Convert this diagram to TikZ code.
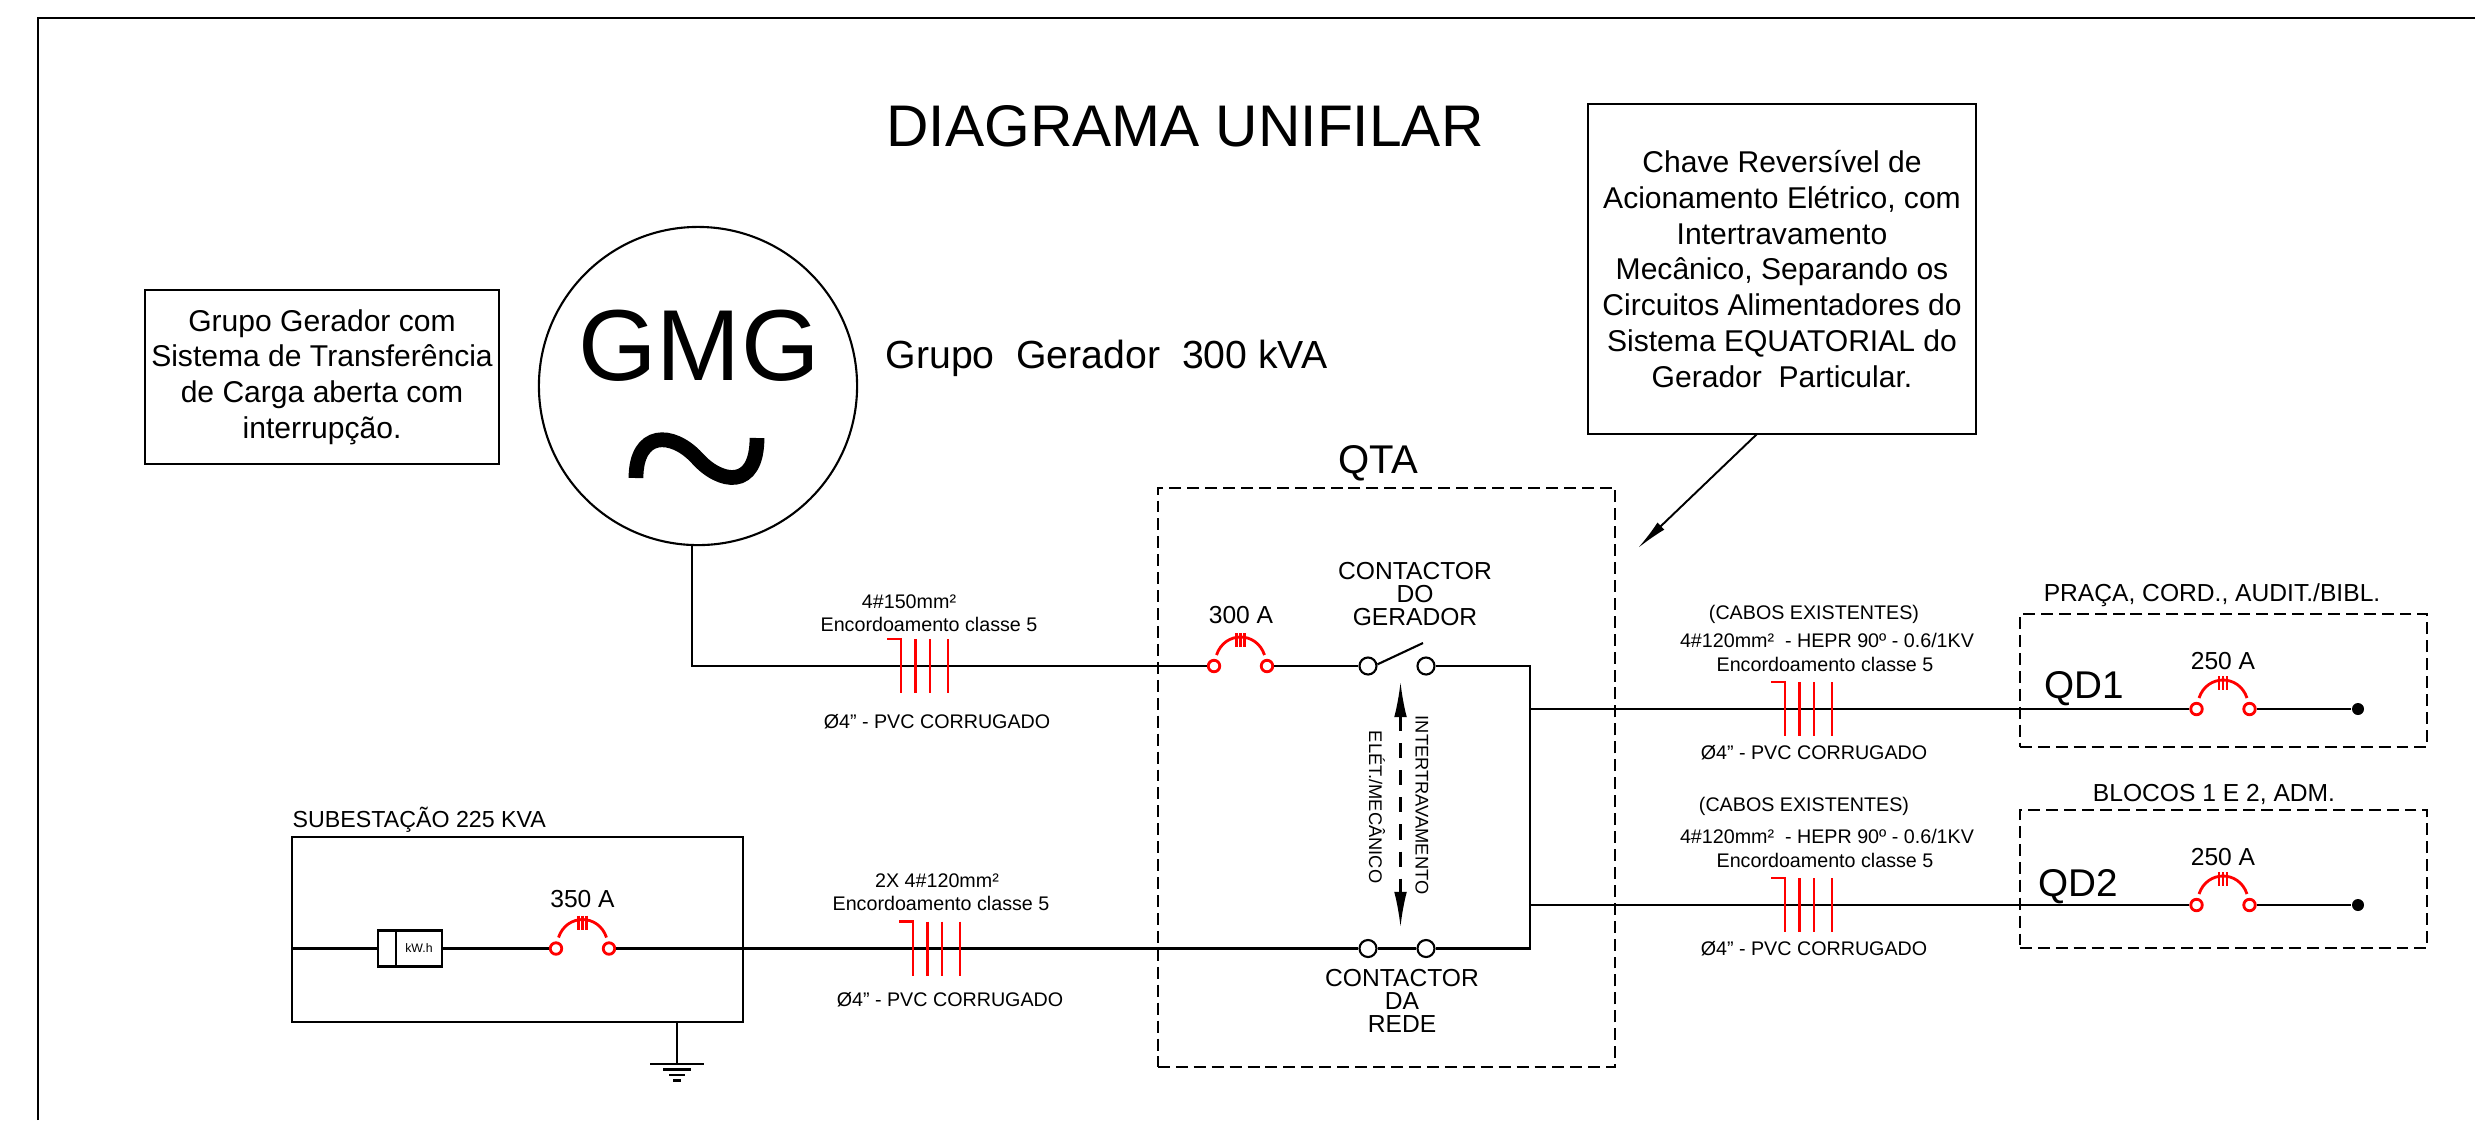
\documentclass[tikz,border=0pt]{standalone}
\usepackage{fontspec}
\setmainfont{Liberation Sans}
\usetikzlibrary{arrows.meta}
\tikzset{
    wire/.style={line width=0.6pt},
    redw/.style={line width=0.65pt,red},
    qbox/.style={rectangle,draw,line width=0.65pt,dash pattern=on 3.4pt off 1.7pt,inner sep=0},
    tbox/.style={rectangle,draw,line width=0.6pt,align=center,inner sep=0,font=\fontsize{8.55}{10.15}\selectfont},
    small/.style={font=\fontsize{5.6}{6.6}\selectfont,inner sep=0,align=center},
    mid/.style={font=\fontsize{7}{6.6}\selectfont,inner sep=0,align=center},
    qdl/.style={font=\fontsize{11}{12}\selectfont,inner sep=0},
    ctc/.style={circle,draw,line width=0.6pt,minimum size=0.17cm,inner sep=0},
    brk/.style={circle,draw=red,line width=0.8pt,minimum size=0.115cm,inner sep=0},
    breaker/.pic={
        \node[brk] (l) at (-26.5,0) {};
        \node[brk] (r) at (26.5,0) {};
        \draw[redw,line width=0.8pt] (-24,-11) .. controls (-16,-35) and (16,-35) .. (24,-11);
        \draw[redw] (-4,-33) -- (-4,-19) (0,-33) -- (0,-19) (4,-33) -- (4,-19);
    },
    cable/.pic={
        \draw[redw] (-14,-27) -- (0,-27) -- (0,27);
        \draw[redw] (14.5,-27) -- (14.5,27) (29,-27) -- (29,27) (47,-27) -- (47,27);
    },
    earth/.pic={
        \coordinate (o) at (0,0);
        \draw[wire] (-27,0) -- (27,0) (-14,5.5) -- (14,5.5) (-8,11) -- (8,11) (-4,16.5) -- (4,16.5);
    }
}
\begin{document}
\begin{tikzpicture}[x=0.01cm,y=-0.01cm]
    \useasboundingbox (0,0) rectangle (2475,1120);
    \coordinate (fa) at (38,1120);\coordinate (fb) at (38,18);\coordinate (fc) at (2475,18);
    \draw[line width=0.75pt] (fa) -- (fb) -- (fc);
    \node[inner sep=0,font=\fontsize{16.7}{18}\selectfont] (title) at (1185,126) {DIAGRAMA UNIFILAR};

    % boxes with text
    \node[tbox,minimum width=3.88cm,minimum height=3.3cm] (note) at (1782,269) {Chave Reversível de\\Acionamento Elétrico, com\\Intertravamento\\Mecânico, Separando os\\Circuitos Alimentadores do\\Sistema EQUATORIAL do\\Gerador\ \ Particular.};
    \node[tbox,minimum width=3.54cm,minimum height=1.74cm] (grupo) at (322,377) {Grupo Gerador com\\Sistema de Transferência\\de Carga aberta com\\interrupção.};
    \coordinate (notefoot) at (1757,434);\coordinate (notetip) at (1638,548);
    \draw[line width=0.55pt,-{Latex[length=9pt,width=2.8pt]}] (notefoot) -- (notetip);

    % generator
    \node[circle,draw,line width=0.6pt,minimum size=3.18cm,inner sep=0] (gmg) at (698,386) {};
    \node[inner sep=0,font=\fontsize{28.7}{30}\selectfont] (gmgt) at (699,346) {GMG};
    \draw[line width=4.2pt] (636,478) .. controls (636,431) and (672,431) .. (697,458) .. controls (720,484) and (757,490) .. (757,438);
    \node[anchor=west,inner sep=0,font=\fontsize{11.15}{12}\selectfont] (gmgp) at (885,358) {Grupo\ \ Gerador\ \ 300 kVA};

    % substation
    \node[rectangle,draw,line width=0.6pt,minimum width=4.51cm,minimum height=1.85cm,inner sep=0] (sub) at (517.5,929.5) {};
    \node[anchor=west,inner sep=0,font=\fontsize{6.6}{7}\selectfont] (subt) at (292,820) {SUBESTAÇÃO 225 KVA};
    \coordinate (subin) at (292,948.5);
    \node[rectangle,draw,line width=0.6pt,minimum width=0.18cm,minimum height=0.36cm,inner sep=0] (kwhl) at (387,948.5) {};
    \node[rectangle,draw,line width=0.6pt,minimum width=0.46cm,minimum height=0.36cm,inner sep=0,font=\fontsize{3.5}{4}\selectfont] (kwhr) at (419,948.5) {kW.h};
    \pic (bs) at (582.5,948.5) {breaker};
    \node[mid] (bst) at (582.5,899) {350 A};
    \pic (gnd) at (677,1064) {earth};
    \draw[wire] (sub.south -| gndo) -- (gndo);

    % QTA
    \node[qbox,minimum width=4.57cm,minimum height=5.79cm] (qta) at (1386.5,777.5) {};
    \node[inner sep=0,font=\fontsize{11.4}{12}\selectfont] (qtat) at (1378,463) {QTA};
    \pic (bg) at (1240.5,666) {breaker};
    \node[mid] (bgt) at (1241,615) {300 A};
    \node[ctc] (cg1) at (1368,666) {};
    \node[ctc] (cg2) at (1426,666) {};
    \node[ctc] (cr1) at (1368,948.5) {};
    \node[ctc] (cr2) at (1426,948.5) {};
    \node[mid] (cgt) at (1415,594) {CONTACTOR\\DO\\GERADOR};
    \node[mid] (crt) at (1402,1001) {CONTACTOR\\DA\\REDE};
    \coordinate (blade) at (1423,643);
    \draw[wire] (cg1.10) -- (blade);
    \coordinate (lockt) at (1400.5,682);\coordinate (lockb) at (1400.5,927);
    \draw[line width=0.6pt,dash pattern=on 4.3pt off 3.4pt,{Latex[length=10pt,width=3.6pt]}-{Latex[length=10pt,width=3.6pt]}] (lockt) -- (lockb);
    \node[rotate=-90,inner sep=0,font=\fontsize{5.2}{6}\selectfont] (lock1) at (1422,805) {INTERTRAVAMENTO};
    \node[rotate=-90,inner sep=0,font=\fontsize{5.2}{6}\selectfont] (lock2) at (1377,807) {ELÉT./MECÂNICO};

    % QD1 and QD2
    \node[qbox,minimum width=4.07cm,minimum height=1.33cm] (qd1) at (2223.5,680.5) {};
    \node[qbox,minimum width=4.07cm,minimum height=1.38cm] (qd2) at (2223.5,879) {};
    \node[mid] (qd1t) at (2212,595) {PRAÇA, CORD., AUDIT./BIBL.};
    \node[mid] (qd2t) at (2214,794) {BLOCOS 1 E 2, ADM.};
    \node[qdl] (qd1n) at (2084,689) {QD1};
    \node[qdl] (qd2n) at (2078,887) {QD2};
    \pic (b1) at (2223,709) {breaker};
    \pic (b2) at (2223,905) {breaker};
    \node[mid] (b1t) at (2223,661) {250 A};
    \node[mid] (b2t) at (2223,857) {250 A};
    \node[circle,fill=black,minimum size=0.12cm,inner sep=0] (d1) at (2358,709) {};
    \node[circle,fill=black,minimum size=0.12cm,inner sep=0] (d2) at (2358,905) {};

    % wires
    \coordinate (bust) at (1530,666);\coordinate (busb) at (1530,948.5);
    \coordinate (bus1) at (1530,709);\coordinate (bus2) at (1530,905);
    \draw[wire] (gmg.-92) |- (bgl) (bgr) -- (cg1) (cg2) -- (bust) -- (busb) -- (cr2) -- (cr1);
    \draw[wire] (bsr) -- (cr1);
    \draw[wire] (subin) -- (kwhl) (kwhr) -- (bsl);
    \draw[wire] (bus1) -- (b1l) (b1r) -- (d1) (bus2) -- (b2l) (b2r) -- (d2);

    % cables
    \pic (c1) at (901,666) {cable};
    \node[small] (c1a) at (909,602) {4\#150mm²};
    \node[small] (c1b) at (929,624) {Encordoamento classe 5};
    \node[small] (c1c) at (937,722) {Ø4" - PVC CORRUGADO};
    \pic (c2) at (913,948.5) {cable};
    \node[small] (c2a) at (937,881) {2X 4\#120mm²};
    \node[small] (c2b) at (941,903) {Encordoamento classe 5};
    \node[small] (c2c) at (950,1000) {Ø4" - PVC CORRUGADO};
    \pic (c3) at (1785,709) {cable};
    \node[small] (c3a) at (1814,614) {(CABOS EXISTENTES)};
    \node[small] (c3b) at (1827,640) {4\#120mm²\ \ - HEPR 90º - 0.6/1KV};
    \node[small] (c3c) at (1825,664) {Encordoamento classe 5};
    \node[small] (c3d) at (1814,753) {Ø4" - PVC CORRUGADO};
    \pic (c4) at (1785,905) {cable};
    \node[small] (c4a) at (1804,806) {(CABOS EXISTENTES)};
    \node[small] (c4b) at (1827,836) {4\#120mm²\ \ - HEPR 90º - 0.6/1KV};
    \node[small] (c4c) at (1825,860) {Encordoamento classe 5};
    \node[small] (c4d) at (1814,949) {Ø4" - PVC CORRUGADO};
\end{tikzpicture}
\end{document}
